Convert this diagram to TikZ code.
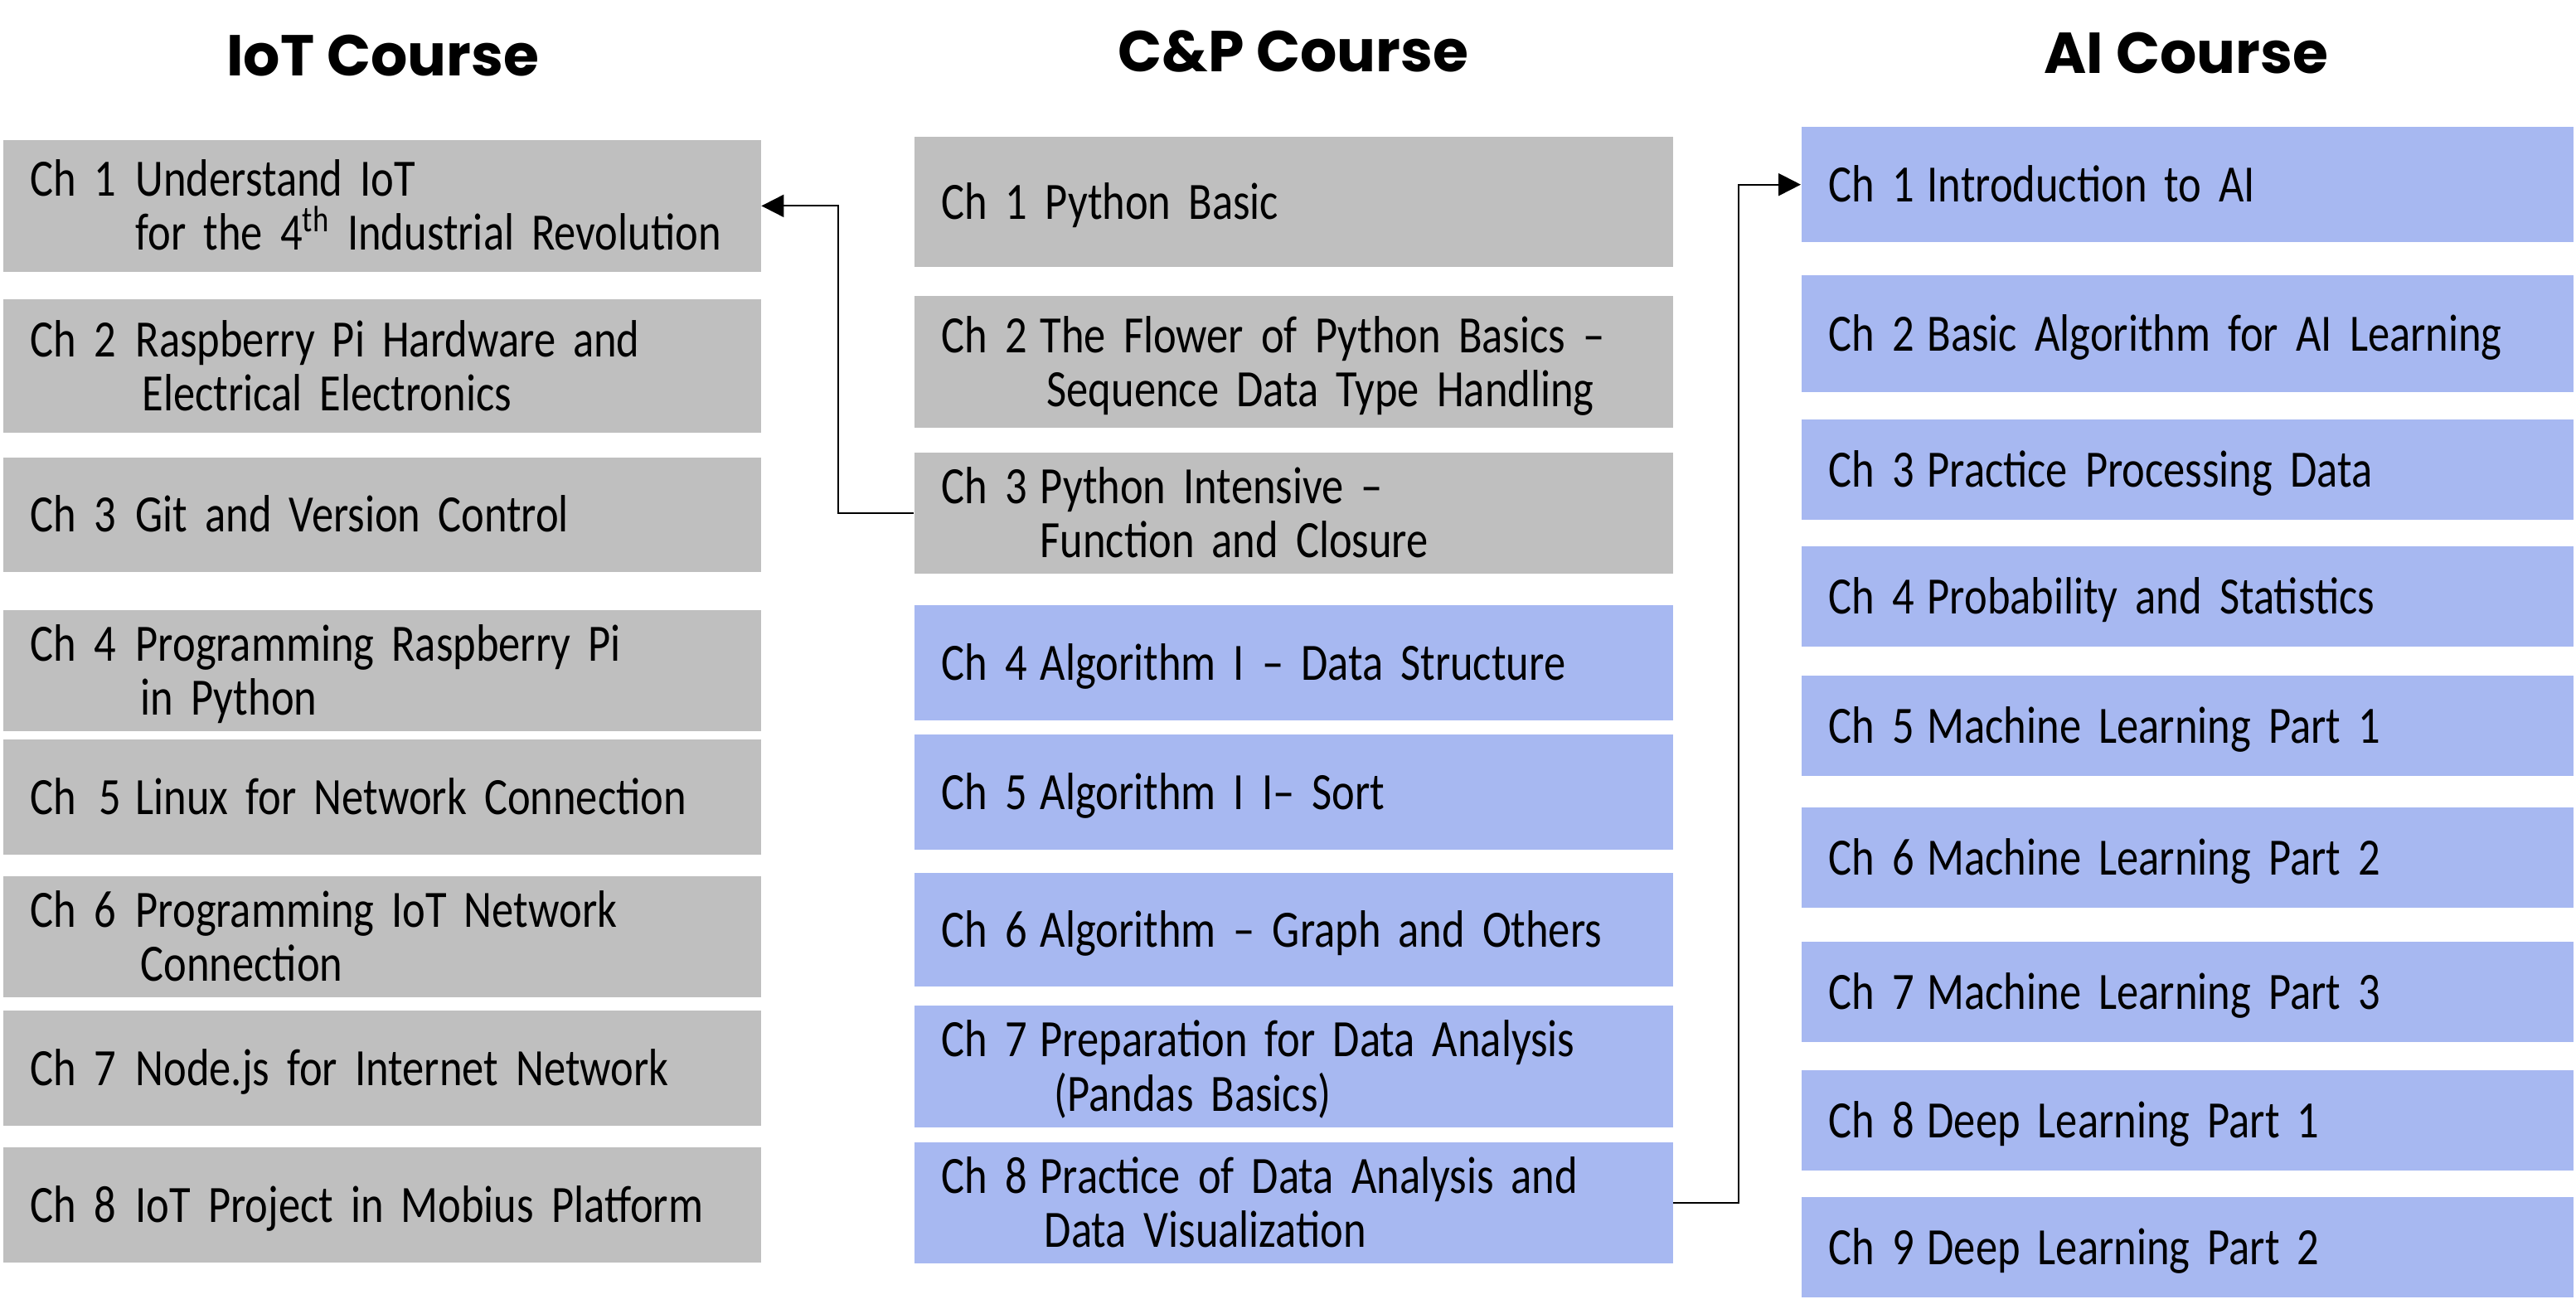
\documentclass[tikz,border=0pt]{standalone}
\usepackage{fontspec}
\setmainfont{Carlito}[FakeStretch=0.83]
\newfontfamily\titlefont{Poppins}
\usepackage{tikz}
\usetikzlibrary{arrows.meta}
\definecolor{iotgray}{HTML}{BFBFBF}
\definecolor{aiblue}{HTML}{A7B8F1}
\newcommand{\chapfont}{\fontsize{18pt}{18.5pt}\selectfont}
\tikzstyle{coursetitle} = [anchor=base, inner sep=0pt, font=\titlefont\bfseries\fontsize{19.8pt}{24pt}\selectfont]
\tikzstyle{chapter} = [rectangle, anchor=north west, inner xsep=0.33cm, inner ysep=0pt, align=left, font=\chapfont]
\tikzstyle{iotbox} = [chapter, fill=iotgray, text width=8.48cm]
\tikzstyle{cpbox} = [chapter, fill=iotgray, text width=8.49cm]
\tikzstyle{cpblue} = [chapter, fill=aiblue, text width=8.49cm]
\tikzstyle{aibox} = [chapter, fill=aiblue, text width=8.65cm]
\tikzstyle{arrow} = [line width=0.6pt, -{Triangle[length=0.27cm,width=0.27cm]}]
\newcommand{\chapline}[3][1.19cm]{\noindent\rule{0pt}{17.5pt}\makebox[#1][l]{#2}\begin{tabular}[t]{@{}l@{}}#3\end{tabular}}

\begin{document}
\begin{tikzpicture}
\useasboundingbox (0,0) rectangle (31.07,-15.72);

% course titles
\node (iotTitle) [coursetitle] at (4.617,-0.917) {IoT Course};
\node (cpTitle) [coursetitle] at (15.60,-0.867) {C\&P Course};
\node (aiTitle) [coursetitle] at (26.367,-0.88) {AI Course};

% IoT course
\node (iot1) [iotbox, minimum height=1.585cm] at (0.03,-1.684) {\chapline[1.27cm]{Ch 1}{Understand IoT\\for the 4\smash{\textsuperscript{th}} Industrial Revolution}};
\node (iot2) [iotbox, minimum height=1.605cm] at (0.03,-3.606) {\chapline[1.27cm]{Ch 2}{Raspberry Pi Hardware and\\\hspace{0.08cm}Electrical Electronics}};
\node (iot3) [iotbox, minimum height=1.387cm] at (0.03,-5.509) {\chapline[1.27cm]{Ch 3}{Git and Version Control}};
\node (iot4) [iotbox, minimum height=1.367cm] at (0.03,-7.351) {\chapline[1.27cm]{Ch 4}{Programming Raspberry Pi\\\hspace{0.06cm}in Python}};
\node (iot5) [iotbox, minimum height=1.387cm] at (0.03,-8.917) {\chapline[1.27cm]{Ch\hspace{0.06cm} 5}{Linux for Network Connection}};
\node (iot6) [iotbox, minimum height=1.387cm] at (0.03,-10.561) {\chapline[1.27cm]{Ch 6}{Programming IoT Network\\\hspace{0.06cm}Connection}};
\node (iot7) [iotbox, minimum height=1.387cm] at (0.03,-12.186) {\chapline[1.27cm]{Ch 7}{Node.js for Internet Network}};
\node (iot8) [iotbox, minimum height=1.387cm] at (0.03,-13.831) {\chapline[1.27cm]{Ch 8}{IoT Project in Mobius Platform}};

% C&P course
\node (cp1) [cpbox, minimum height=1.565cm] at (11.02,-1.645) {\chapline{Ch 1}{\hspace{0.06cm}Python Basic}};
\node (cp2) [cpbox, minimum height=1.585cm] at (11.02,-3.567) {\chapline{Ch 2}{The Flower of Python Basics --\\\hspace{0.08cm}Sequence Data Type Handling}};
\node (cp3) [cpbox, minimum height=1.387cm] at (11.02,-5.449) {\chapline{Ch 3}{Python Intensive --\\Function and Closure}};
\node (cp4) [cpblue, minimum height=1.387cm] at (11.02,-7.292) {\chapline{Ch 4}{Algorithm I -- Data Structure}};
\node (cp5) [cpblue, minimum height=1.387cm] at (11.02,-8.857) {\chapline{Ch 5}{Algorithm I I-- Sort}};
\node (cp6) [cpblue, minimum height=1.367cm] at (11.02,-10.522) {\chapline{Ch 6}{Algorithm -- Graph and Others}};
\node (cp7) [cpblue, minimum height=1.387cm] at (11.02,-12.127) {\chapline{Ch 7}{Preparation for Data Analysis\\\hspace{0.17cm}(Pandas Basics)}};
\node (cp8) [cpblue, minimum height=1.387cm] at (11.02,-13.771) {\chapline{Ch 8}{Practice of Data Analysis and\\\hspace{0.05cm}Data Visualization}};

% AI course
\node (ai1) [aibox, minimum height=1.387cm] at (21.72,-1.526) {\chapline{Ch 1}{Introduction to AI}};
\node (ai2) [aibox, minimum height=1.41cm] at (21.72,-3.31) {\chapline{Ch 2}{Basic Algorithm for AI Learning}};
\node (ai3) [aibox, minimum height=1.209cm] at (21.72,-5.053) {\chapline{Ch 3}{Practice Processing Data}};
\node (ai4) [aibox, minimum height=1.209cm] at (21.72,-6.579) {\chapline{Ch 4}{Probability and Statistics}};
\node (ai5) [aibox, minimum height=1.209cm] at (21.72,-8.144) {\chapline{Ch 5}{Machine Learning Part 1}};
\node (ai6) [aibox, minimum height=1.209cm] at (21.72,-9.729) {\chapline{Ch 6}{Machine Learning Part 2}};
\node (ai7) [aibox, minimum height=1.209cm] at (21.72,-11.354) {\chapline{Ch 7}{Machine Learning Part 3}};
\node (ai8) [aibox, minimum height=1.209cm] at (21.72,-12.90) {\chapline{Ch 8}{Deep Learning Part 1}};
\node (ai9) [aibox, minimum height=1.209cm] at (21.72,-14.43) {\chapline{Ch 9}{Deep Learning Part 2}};

% links between courses
\draw [arrow] (cp3.west) -- ++(-0.91,0) |- (iot1.east);
\draw [arrow] (cp8.east) -- ++(0.79,0) |- (ai1.west);
\end{tikzpicture}
\end{document}
